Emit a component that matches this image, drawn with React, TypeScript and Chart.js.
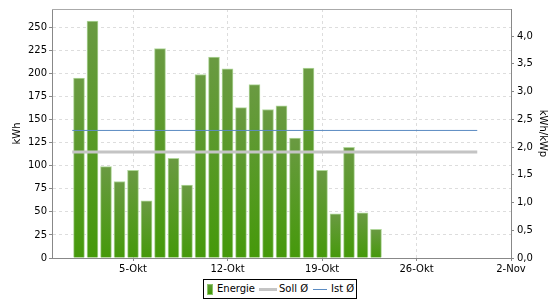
import React, { useEffect, useRef } from "react";
import { Chart, registerables } from "chart.js";

Chart.register(...registerables);

// October day numbers of the daily bars
const barDays = [1, 2, 3, 4, 5, 6, 7, 8, 9, 10, 11, 12, 13, 14, 15, 16, 17, 18, 19, 20, 21, 22, 23];
// Daily energy in kWh
const energy = [195, 257, 99, 83, 95, 62, 227, 108, 79, 199, 218, 205, 163, 188, 161, 165, 130, 206, 95, 48, 120, 49, 31];
// Averages in kWh/kWp
const sollAvg = 1.91;
const istAvg = 2.3;
// Span of the average lines (October day numbers)
const avgFrom = 0.5;
const avgTo = 30.5;
// X range (October day numbers: -1 = 29 Sep, 33 = 2 Nov)
const xFrom = -1;
const xTo = 33;
const tickDays = [5, 12, 19, 26, 33];
const tickLabels = ["5-Okt", "12-Okt", "19-Okt", "26-Okt", "2-Nov"];
const legendLabels = ["Energie", "Soll Ø", "Ist Ø"];

const FONT = "'DejaVu Sans', sans-serif";

export default function App() {
  const ref = useRef<HTMLCanvasElement>(null);

  useEffect(() => {
    document.body.style.margin = "0";
    const canvas = ref.current;
    if (!canvas) return;

    const barColor = (c: any) => {
      const chart = c.chart;
      const ys = chart.scales && chart.scales.y;
      if (!chart.chartArea || !ys || !c.raw) return "#5a9a26";
      const top = ys.getPixelForValue(c.raw.y);
      const bot = ys.getPixelForValue(0);
      const g = chart.ctx.createLinearGradient(0, top, 0, bot);
      g.addColorStop(0, "#6a9a42");
      g.addColorStop(1, "#45990a");
      return g;
    };

    const topLine = {
      id: "topLine",
      afterDraw(chart: any) {
        const { ctx, chartArea } = chart;
        ctx.save();
        ctx.strokeStyle = "#aaaaaa";
        ctx.lineWidth = 1;
        ctx.beginPath();
        ctx.moveTo(chartArea.left, Math.floor(chartArea.top) + 0.5);
        ctx.lineTo(chartArea.right, Math.floor(chartArea.top) + 0.5);
        ctx.stroke();
        ctx.restore();
      },
    };

    const gridCommon = {
      color: "#dddddd",
      tickColor: "#888888",
      tickLength: 3,
      drawTicks: true,
      offset: false,
    };
    const borderCommon = { color: "#888888", dash: [3, 3] };
    const tickFont = { family: FONT, size: 10 };

    const chart = new Chart(canvas, {
      type: "bar",
      data: {
        datasets: [
          {
            type: "line",
            label: legendLabels[1],
            data: [
              { x: avgFrom, y: sollAvg },
              { x: avgTo, y: sollAvg },
            ],
            yAxisID: "y1",
            borderColor: "#c4c4c4",
            borderWidth: 3,
            pointRadius: 0,
            order: 0,
          } as any,
          {
            type: "line",
            label: legendLabels[2],
            data: [
              { x: avgFrom, y: istAvg },
              { x: avgTo, y: istAvg },
            ],
            yAxisID: "y1",
            borderColor: "#5b8bc2",
            borderWidth: 1,
            pointRadius: 0,
            order: 1,
          } as any,
          {
            type: "bar",
            label: legendLabels[0],
            data: barDays.map((d, i) => ({ x: d, y: energy[i] })),
            yAxisID: "y",
            backgroundColor: barColor,
            borderColor: "#b0d69a",
            borderWidth: 1,
            borderSkipped: "bottom",
            barThickness: 11,
            order: 2,
          } as any,
        ],
      },
      options: {
        responsive: false,
        animation: false,
        layout: { padding: { left: 0, right: 0, top: 4, bottom: 0 } },
        plugins: { legend: { display: false }, tooltip: { enabled: false } },
        scales: {
          x: {
            type: "linear",
            min: xFrom,
            max: xTo,
            offset: false,
            afterBuildTicks: (s: any) => {
              s.ticks = tickDays.map((v) => ({ value: v }));
            },
            afterFit: (s: any) => {
              s.height = 42;
            },
            ticks: {
              autoSkip: false,
              maxRotation: 0,
              padding: 2,
              color: "#000",
              font: tickFont,
              callback: (_v: any, i: number) => tickLabels[i],
            },
            grid: gridCommon,
            border: borderCommon,
          },
          y: {
            type: "linear",
            position: "left",
            min: 0,
            max: 270,
            afterFit: (s: any) => {
              s.width = 52;
            },
            ticks: { stepSize: 25, includeBounds: false, padding: 2, color: "#000", font: tickFont },
            grid: gridCommon,
            border: borderCommon,
            title: {
              display: true,
              text: "kWh",
              color: "#000",
              font: { family: FONT, size: 10 },
              padding: { top: 11, bottom: 0 },
            },
          },
          y1: {
            type: "linear",
            position: "right",
            min: 0,
            max: 4.49,
            afterFit: (s: any) => {
              s.width = 49;
            },
            ticks: {
              stepSize: 0.5,
              includeBounds: false,
              padding: 3,
              color: "#000",
              font: tickFont,
              callback: (v: any) => Number(v).toFixed(1).replace(".", ","),
            },
            grid: { ...gridCommon, drawOnChartArea: false },
            border: { color: "#888888" },
            title: {
              display: true,
              text: "kWh/kWp",
              color: "#000",
              font: { family: FONT, size: 10 },
              padding: { top: 11, bottom: 0 },
            },
          },
        },
      } as any,
      plugins: [topLine],
    });

    return () => chart.destroy();
  }, []);

  const txt: React.CSSProperties = {
    position: "absolute",
    top: 0,
    height: 18,
    lineHeight: "18px",
    fontFamily: FONT,
    fontSize: 10,
    color: "#000",
    whiteSpace: "nowrap",
  };

  return (
    <div style={{ position: "fixed", left: 0, top: 0, width: 560, height: 300, background: "#fff" }}>
      <canvas ref={ref} width={560} height={300} style={{ width: 560, height: 300, display: "block" }} />
      <div
        style={{
          position: "absolute",
          left: 203,
          top: 279,
          width: 154,
          height: 20,
          boxSizing: "border-box",
          border: "1px solid #000",
          background: "#fff",
        }}
      >
        <div
          style={{
            position: "absolute",
            left: 3,
            top: 4,
            width: 6,
            height: 11,
            boxSizing: "border-box",
            border: "1px solid #8cc46a",
            background: "linear-gradient(#5f9a36, #3f9a02)",
          }}
        />
        <span style={{ ...txt, left: 13 }}>{legendLabels[0]}</span>
        <div style={{ position: "absolute", left: 55, top: 8, width: 18, height: 3, background: "#c4c4c4" }} />
        <span style={{ ...txt, left: 75 }}>{legendLabels[1]}</span>
        <div style={{ position: "absolute", left: 109, top: 9, width: 14, height: 1, background: "#5b8bc2" }} />
        <span style={{ ...txt, left: 127 }}>{legendLabels[2]}</span>
      </div>
    </div>
  );
}
